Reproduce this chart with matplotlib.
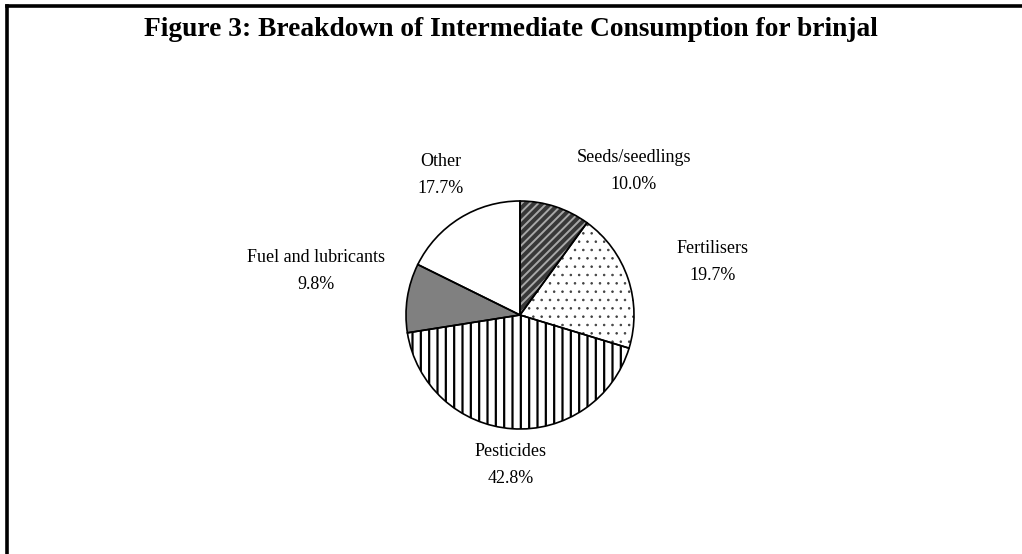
import numpy as np
import matplotlib
matplotlib.use("Agg")
import matplotlib.pyplot as plt

# data
categories = ["Seeds/seedlings", "Fertilisers", "Pesticides", "Fuel and lubricants", "Other"]
shares = [10.0, 19.7, 42.8, 9.8, 17.7]

# styling per wedge
face_colors = ["#383838", "white", "white", "#808080", "white"]
hatch_colors = ["#a8a8a8", "#404040", "black", "#808080", "white"]
hatches = ["////", "..", "||", "", ""]
hatch_lw = [1.4, 0.6, 1.6, 1.0, 1.0]
# label anchors (pixels, from top-left of figure)
label_px = [(634, 171), (713, 262), (511, 465), (316, 271), (441, 175)]

plt.rcParams["font.family"] = ["Liberation Serif", "DejaVu Serif"]
plt.rcParams["hatch.linewidth"] = 1.6

W, H = 1022, 554
fig = plt.figure(figsize=(W / 100, H / 100), dpi=100)
ax = fig.add_axes([0, 0, 1, 1])
ax.set_xlim(0, W)
ax.set_ylim(0, H)
ax.set_aspect("equal")
ax.axis("off")

center = (520, H - 315)
radius = 114

# filled wedges with hatch (hatch takes the edge colour)
wedges, _ = ax.pie(shares, startangle=90, counterclock=False, center=center,
                   radius=radius, colors=face_colors,
                   wedgeprops=dict(linewidth=0))
for w, hc, h, hl in zip(wedges, hatch_colors, hatches, hatch_lw):
    w.set_edgecolor(hc)
    w.set_hatch(h)
    w.set_linewidth(0)
    if hasattr(w, "set_hatch_linewidth"):
        w.set_hatch_linewidth(hl)
    else:
        w._hatch_linewidth = hl

# black outlines on top
ax.pie(shares, startangle=90, counterclock=False, center=center, radius=radius,
       colors=["none"] * len(shares),
       wedgeprops=dict(fill=False, edgecolor="black", linewidth=1.2))
ax.set_xlim(0, W)
ax.set_ylim(0, H)

for name, val, (px, py) in zip(categories, shares, label_px):
    ax.text(px, H - py, f"{name}\n{val:.1f}%", ha="center", va="center",
            fontsize=13, linespacing=1.75)

fig.text(0.5, 1 - 30 / H, "Figure 3: Breakdown of Intermediate Consumption for brinjal",
         ha="center", va="center", fontsize=19.8, fontweight="bold")

# frame lines (top and left only are visible in the crop)
fig.add_artist(plt.Line2D([6.5 / W, 1], [1 - 5.5 / H, 1 - 5.5 / H],
                          transform=fig.transFigure, color="black", linewidth=2.6))
fig.add_artist(plt.Line2D([6.5 / W, 6.5 / W], [0, 1 - 5.5 / H],
                          transform=fig.transFigure, color="black", linewidth=2.6))

fig.savefig("out.png", dpi=100)
